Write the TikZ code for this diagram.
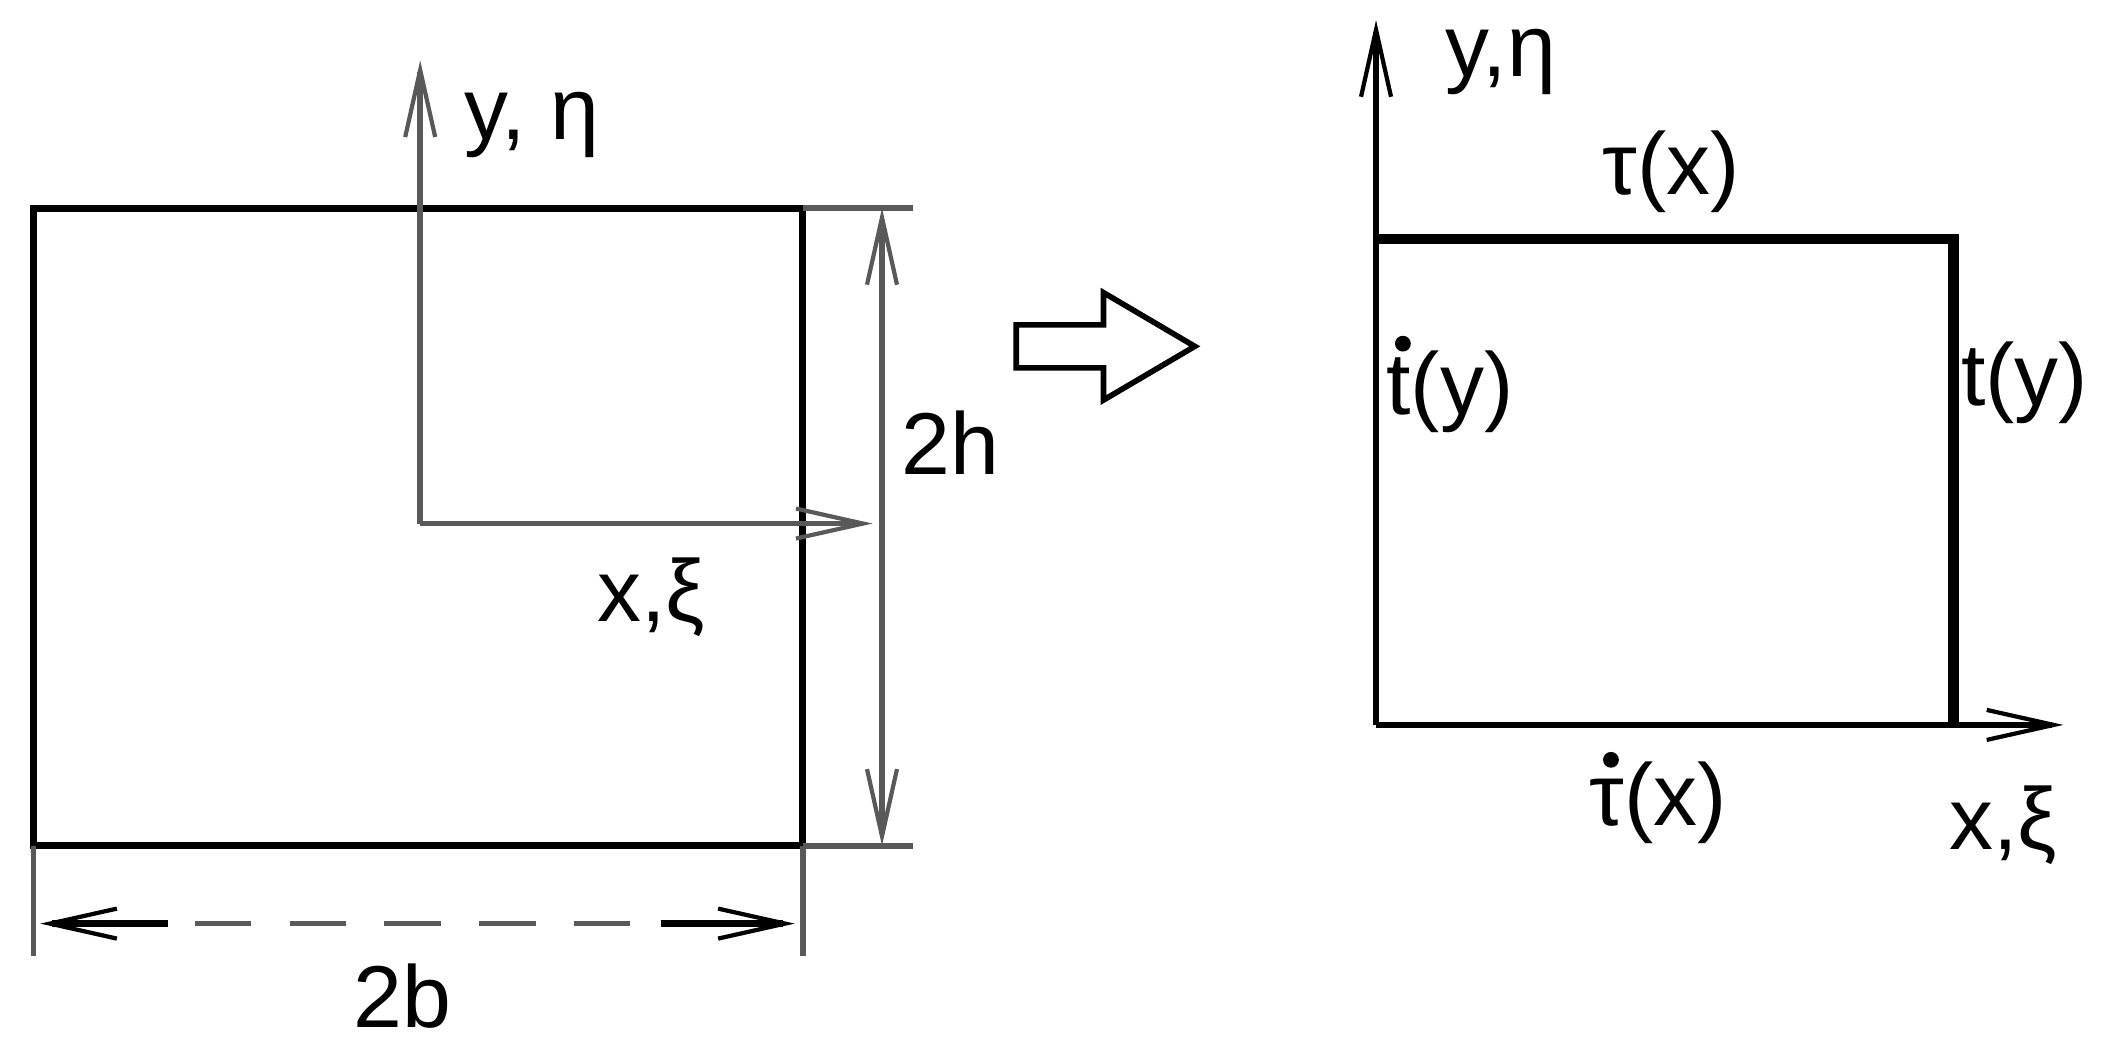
\documentclass[tikz,border=0pt]{standalone}
\usepackage{fontspec}
\setmainfont{Liberation Sans}
\usetikzlibrary{arrows.meta}
\begin{document}
\begin{tikzpicture}[x=0.01343cm,y=-0.01343cm,
  thin line/.style={line width=1.6pt,gray!70!black},
  thick line/.style={line width=3pt,black},
  open/.style={-{Straight Barb[length=0.67cm,width=0.3cm,line width=1.2pt]}},
  lbl/.style={font=\fontsize{25}{30}\selectfont,inner sep=0pt},
  dotmark/.style={fill=black,circle,inner sep=0pt,minimum size=4.5pt},
  every node/.style={lbl}]
\useasboundingbox (0,0) rectangle (1568,779);
% left rectangle
\draw[line width=2pt] (25,155) rectangle (598,630);
\coordinate (o) at (313,390);
\coordinate (yt) at (313,45);
\coordinate (xt) at (650,390);
\draw[thin line,open] (o) -- (yt);
\draw[thin line,open] (o) -- (xt);
\node (ly) at (396,93) {y, η};
\node (lx) at (485,445) {x,ξ};
% dimension 2h
\draw[thin line] (598,155) -- (680,155) (598,630) -- (680,630);
\coordinate (h1) at (657,155); \coordinate (h2) at (657,630);
\draw[thin line,{Straight Barb[length=0.67cm,width=0.3cm,line width=1.2pt]}-{Straight Barb[length=0.67cm,width=0.3cm,line width=1.2pt]}] (h1) -- (h2);
\node (l2h) at (708,330) {2h};
% dimension 2b
\draw[thin line] (25,630) -- (25,712) (598,630) -- (598,712);
\coordinate (b1) at (30,688); \coordinate (b2) at (592,688);
\coordinate (b1s) at (125,688); \coordinate (b2s) at (492,688);
\draw[line width=2.1pt,open] (b1s) -- (b1);
\draw[line width=2.1pt,open] (b2s) -- (b2);
\draw[thin line,dash pattern=on 16pt off 11pt] (145,688) -- (480,688);
\node (l2b) at (300,742) {2b};
% block arrow
\draw[line width=1.6pt] (757,242) -- (822,242) -- (822,218) -- (890,258) -- (822,298) -- (822,274) -- (757,274) -- cycle;
% right rectangle
\coordinate (O) at (1025,540);
\coordinate (A) at (1025,178);
\coordinate (B) at (1455,178);
\coordinate (C) at (1455,540);
\draw[thick line] (A) -- (B) -- (C);
\coordinate (Yt) at (1025,15);
\coordinate (Xt) at (1537,540);
\draw[line width=1.7pt,open] (O) -- (Yt);
\draw[line width=1.7pt,open] (O) -- (Xt);
\node (rY) at (1118,46) {y,η};
\node (rtau) at (1245,128) {τ(x)};
\node (rt) at (1508,285) {t(y)};
\node (rtd) at (1080,292) {t(y)};
\node[dotmark] (rtdd) at (1045,256) {};
\node (rtaud) at (1235,598) {τ(x)};
\node[dotmark] (rtaudd) at (1200,566) {};
\node (rX) at (1492,615) {x,ξ};
\end{tikzpicture}
\end{document}
